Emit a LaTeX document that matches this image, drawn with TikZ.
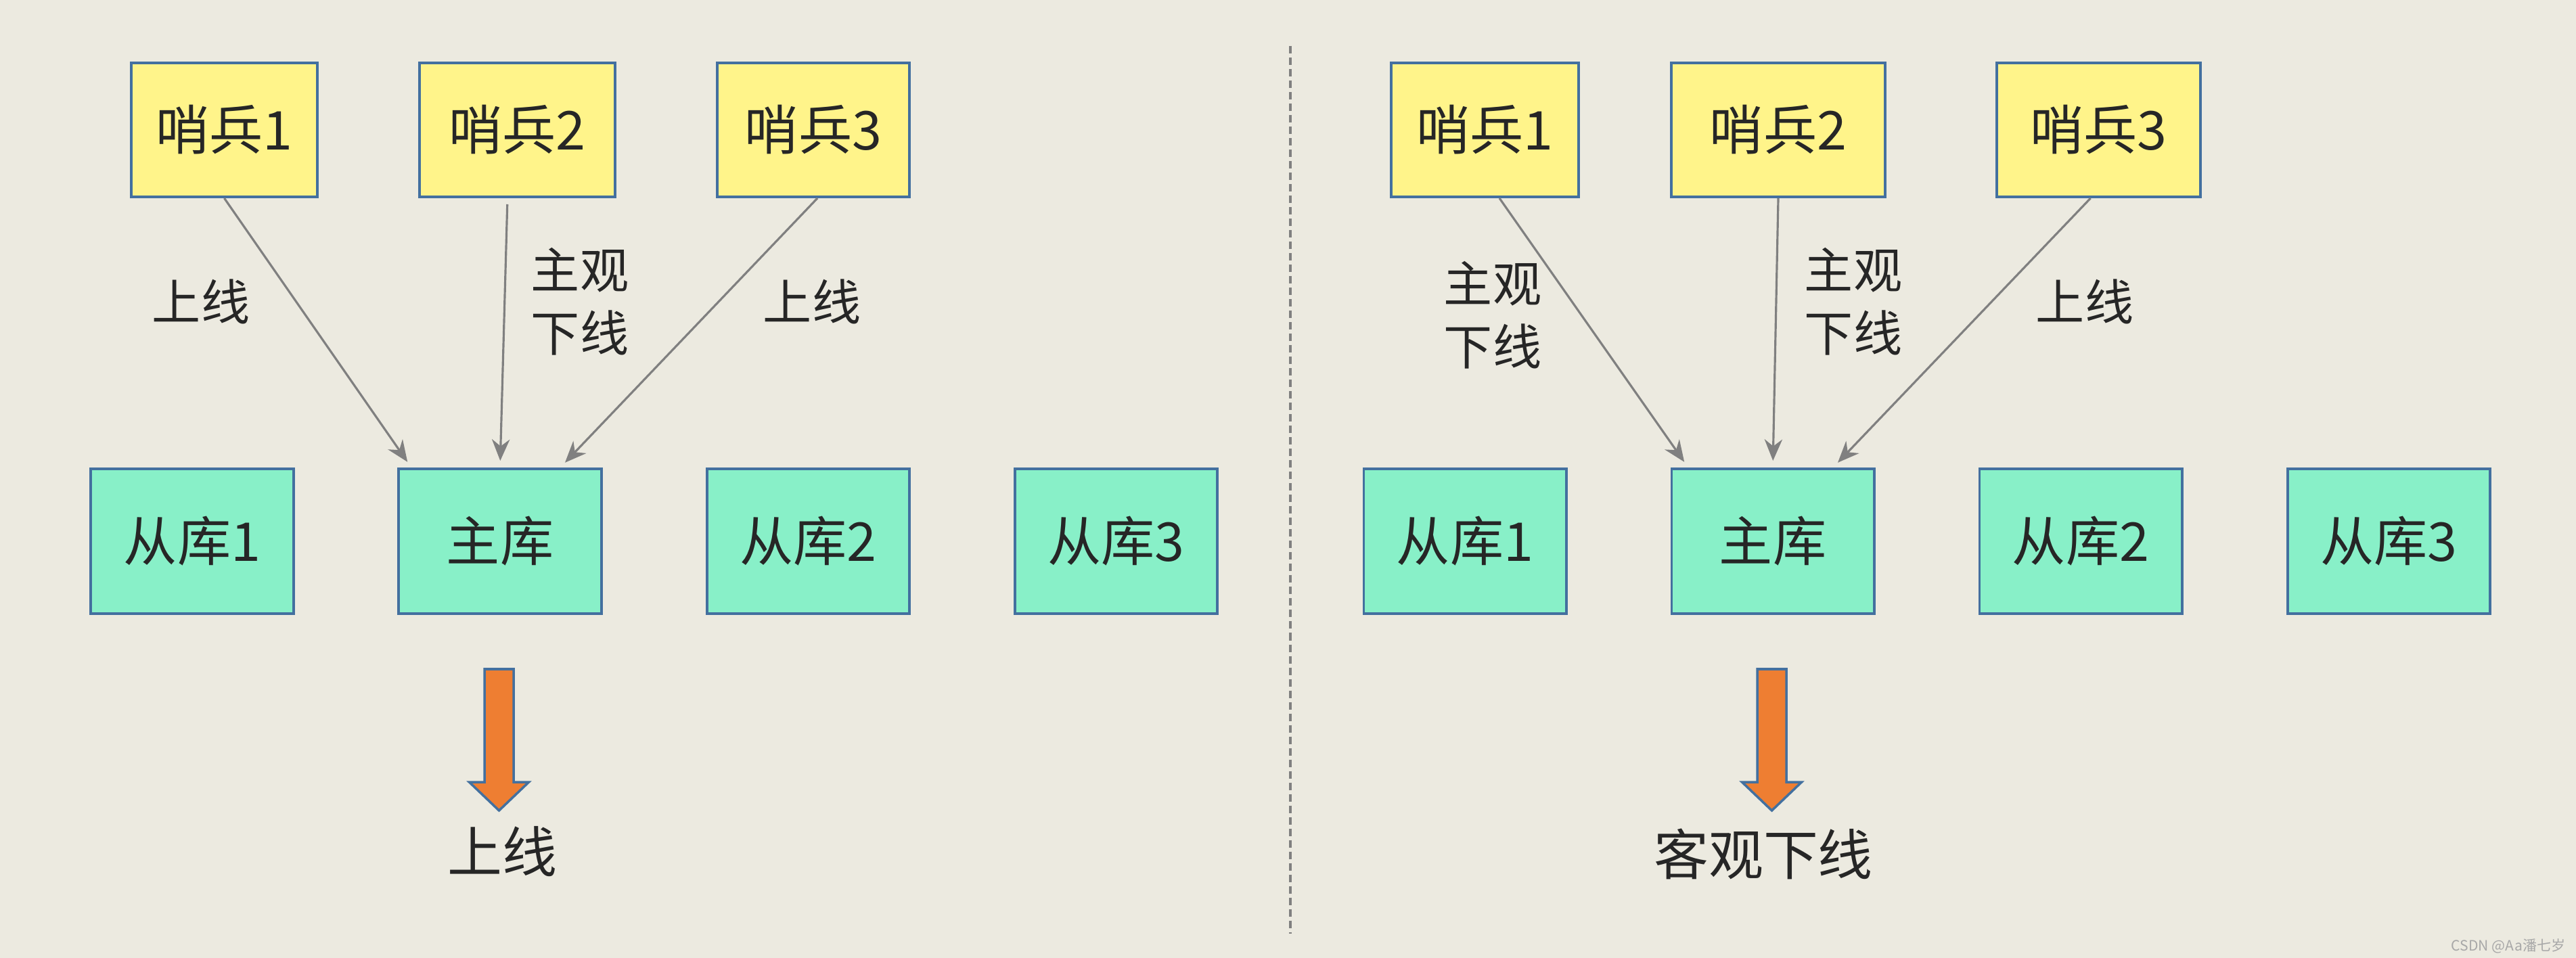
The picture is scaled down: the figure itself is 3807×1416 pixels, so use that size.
\documentclass[tikz,border=0pt]{standalone}
\usepackage{fontspec}
\setmainfont{Noto Sans CJK SC}
\usetikzlibrary{arrows.meta}
\definecolor{bgcol}{HTML}{ECEAE0}
\definecolor{boxline}{HTML}{43709F}
\definecolor{sentfill}{HTML}{FFF48A}
\definecolor{dbfill}{HTML}{88F0C8}
\definecolor{arrowfill}{HTML}{EE7E32}
\definecolor{linegray}{HTML}{808080}
\definecolor{txt}{HTML}{262626}
\definecolor{wmgray}{HTML}{A8A8A8}

\begin{document}
\begin{tikzpicture}[x=0.01cm, y=-0.01cm,
    sentinel/.style={draw=boxline, line width=1.1pt, fill=sentfill, text=txt,
        font=\fontsize{22.5}{27}\selectfont, minimum height=1.98cm, inner sep=0pt},
    dbbox/.style={draw=boxline, line width=1.1pt, fill=dbfill, text=txt,
        font=\fontsize{22.5}{27}\selectfont, minimum width=2.99cm, minimum height=2.14cm, inner sep=0pt},
    vote/.style={draw=linegray, line width=0.9pt, -{Stealth[length=9pt,width=7.5pt]}, shorten >=0.1cm},
    votelabel/.style={text=txt, align=center, font=\fontsize{20.5}{26.5}\selectfont},
    bigarrow/.style={draw=boxline, line width=1pt, fill=arrowfill},
    result/.style={text=txt, font=\fontsize{23}{27}\selectfont},
    divider/.style={draw=linegray, line width=1.3pt, dash pattern=on 0.11cm off 0.06cm}]

    \fill[bgcol] (0,0) rectangle (3807,1416);

    % left: sentinels
    \node[sentinel, minimum width=2.75cm] (ls1) at (331.5,192) {哨兵1};
    \node[sentinel, minimum width=2.89cm] (ls2) at (764.5,192) {哨兵2};
    \node[sentinel, minimum width=2.84cm] (ls3) at (1202,192) {哨兵3};

    % left: master and replicas
    \node[dbbox] (lr1) at (284,800) {从库1};
    \node[dbbox] (lm) at (739,800) {主库};
    \node[dbbox] (lr2) at (1194.5,800) {从库2};
    \node[dbbox] (lr3) at (1649.5,800) {从库3};

    \draw[vote] (ls1.south) -- ([xshift=-1.31cm]lm.north);
    \draw[vote, shorten <=0.09cm] ([xshift=-0.145cm]ls2.south) -- (lm.north);
    \draw[vote] ([xshift=0.06cm]ls3.south) -- ([xshift=0.89cm]lm.north);

    \node[votelabel] (lt1) at (297,446) {上线};
    \node[votelabel] (lt2) at (857,446) {主观\\下线};
    \node[votelabel] (lt3) at (1200,446) {上线};

    % left: result
    \draw[bigarrow, shift={(737.5,989)}] (-21.5,0) -- (21.5,0) -- (21.5,167) -- (44,167)
        -- (0,209) -- (-44,167) -- (-21.5,167) -- cycle;
    \node[result] (lres) at (742,1259) {上线};

    \draw[divider] (1907,68) -- (1907,1380);

    % right: sentinels
    \node[sentinel, minimum width=2.77cm] (rs1) at (2194.5,192) {哨兵1};
    \node[sentinel, minimum width=3.16cm] (rs2) at (2628,192) {哨兵2};
    \node[sentinel, minimum width=3.01cm] (rs3) at (3101.5,192) {哨兵3};

    % right: master and replicas
    \node[dbbox] (rr1) at (2165,800) {从库1};
    \node[dbbox] (rm) at (2620,800) {主库};
    \node[dbbox] (rr2) at (3075,800) {从库2};
    \node[dbbox] (rr3) at (3530.5,800) {从库3};

    \draw[vote] ([xshift=0.215cm]rs1.south) -- ([xshift=-1.25cm]rm.north);
    \draw[vote] (rs2.south) -- (rm.north);
    \draw[vote] ([xshift=-0.12cm]rs3.south) -- ([xshift=0.89cm]rm.north);

    \node[votelabel] (rt1) at (2206,466) {主观\\下线};
    \node[votelabel] (rt2) at (2739,446) {主观\\下线};
    \node[votelabel] (rt3) at (3081,446) {上线};

    % right: result
    \draw[bigarrow, shift={(2618.5,989)}] (-21.5,0) -- (21.5,0) -- (21.5,167) -- (44,167)
        -- (0,209) -- (-44,167) -- (-21.5,167) -- cycle;
    \node[result] (rres) at (2606,1262) {客观下线};

    \node[text=wmgray, font=\fontsize{6}{7}\selectfont, inner sep=0pt, anchor=east] (mark) at (3792,1398) {CSDN @Aa潘七岁};
\end{tikzpicture}
\end{document}
